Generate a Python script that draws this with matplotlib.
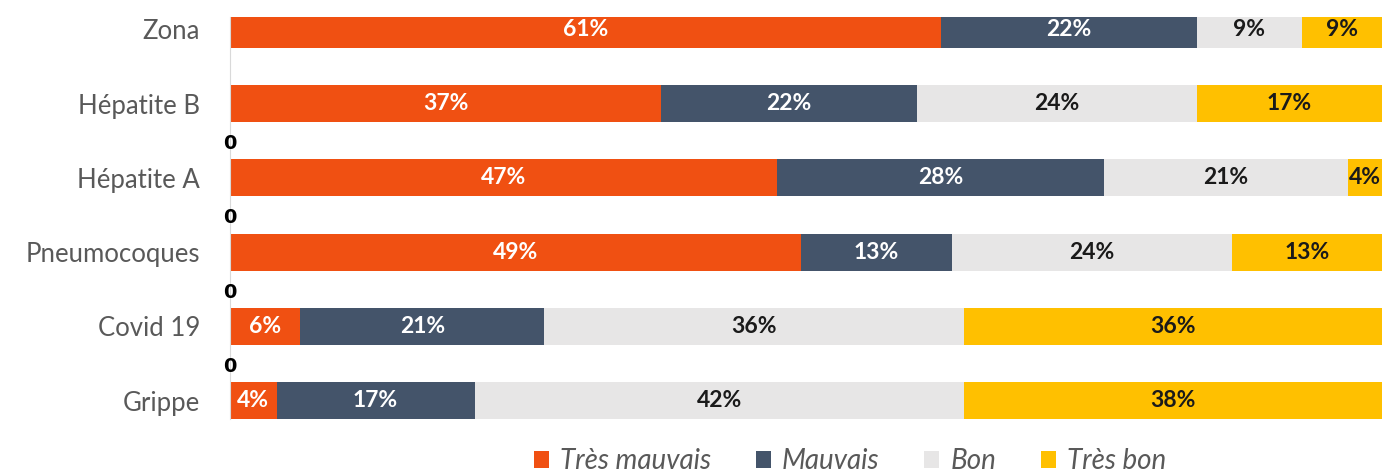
import numpy as np
import matplotlib
matplotlib.use("Agg")
import matplotlib.pyplot as plt
from matplotlib.patches import Patch

plt.rcParams['font.family'] = ['Lato', 'DejaVu Sans']

# Data (top to bottom as in the chart)
categories = ["Zona", "Hépatite B", "Hépatite A", "Pneumocoques", "Covid 19", "Grippe"]
series_names = ["Très mauvais", "Mauvais", "Bon", "Très bon"]
tres_mauvais = [61, 37, 47, 49, 6, 4]
mauvais = [22, 22, 28, 13, 21, 17]
bon = [9, 24, 21, 24, 36, 42]
tres_bon = [9, 17, 4, 13, 36, 38]
zero_labels = ["0", "0", "0", "0"]

colors = ["#F05012", "#44546A", "#E7E6E6", "#FFC000"]
text_colors = ["white", "white", "#1a1a1a", "#1a1a1a"]

xmax = 98.9

fig = plt.figure(figsize=(13.82, 4.72), dpi=100)
ax = fig.add_axes([230 / 1382, 1 - 440 / 472, 1 - 230 / 1382, (440 - 17) / 472])

y = np.arange(len(categories))[::-1]
left = np.zeros(len(categories))
for vals, col, tcol, name in zip([tres_mauvais, mauvais, bon, tres_bon],
                                 colors, text_colors, series_names):
    vals = np.array(vals, dtype=float)
    ax.barh(y, vals, left=left, height=0.5, color=col, label=name)
    for yi, l, v in zip(y, left, vals):
        # centre label on the visible part of the segment
        xc = min(l + v / 2, (l + xmax) / 2)
        ax.text(xc, yi, f"{v:.0f}%", ha="center", va="center",
                color=tcol, fontsize=16.5, fontweight="bold")
    left += vals

# stray "0" labels between bars
for i, lab in enumerate(zero_labels):
    ax.text(0, 3.46 - i, lab, ha="center", va="center", fontsize=14,
            fontweight="bold", color="black", family=["DejaVu Sans"])

ax.set_xlim(0, xmax)
ax.set_ylim(-0.532, 5.168)
ax.set_yticks(y)
ax.set_yticklabels(categories, fontsize=18.5, color="#595959")
ax.tick_params(axis="y", length=0, pad=21.6)
ax.set_xticks([])
for s in ["top", "right", "bottom"]:
    ax.spines[s].set_visible(False)
ax.spines["left"].set_color("#D9D9D9")
ax.spines["left"].set_bounds(-0.25, 5.168)

handles = [Patch(facecolor=c, edgecolor="none") for c in colors]
leg = fig.legend(handles, series_names, loc="center", bbox_to_anchor=(850 / 1382, 1 - 461 / 472),
                 ncol=4, frameon=False, handlelength=0.55, handleheight=0.55,
                 handletextpad=0.4, columnspacing=1.6,
                 prop={"size": 20, "style": "italic"})
for t in leg.get_texts():
    t.set_color("#595959")

fig.savefig("out.png", dpi=100)
